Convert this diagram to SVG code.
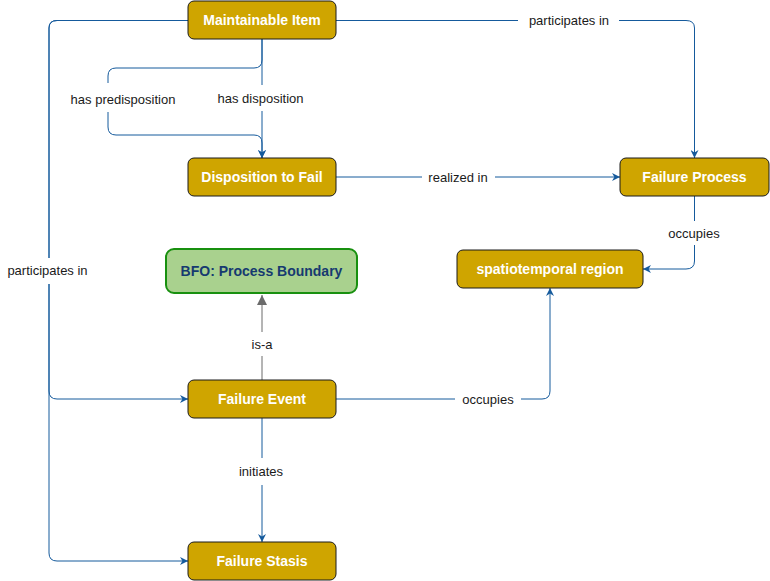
<svg xmlns="http://www.w3.org/2000/svg" width="770" height="581" viewBox="0 0 770 581">
<style>
.node rect{fill:#cfa500;stroke:#1a1a1a;stroke-width:1}
.node text{font-family:"Liberation Sans",Arial,sans-serif;font-weight:bold;font-size:14px;fill:#fff;text-anchor:middle;dominant-baseline:central}
.bfo rect{fill:#a9d18e;stroke:#18900f;stroke-width:2}
.bfo text{fill:#163a70}
.edge{fill:none;stroke:#155a9c;stroke-width:1}
.isa{fill:none;stroke:#6b6b6b;stroke-width:1}
.lbl rect{fill:#fff}
.lbl text{font-family:"Liberation Sans",Arial,sans-serif;font-size:13px;fill:#1a1a1a;text-anchor:middle;dominant-baseline:central}
</style>
<defs>
<marker id="arr" viewBox="0 0 10 10" refX="10" refY="5" markerWidth="8" markerHeight="8" markerUnits="userSpaceOnUse" orient="auto">
<path d="M0,0 L10,5 L0,10 L3,5 Z" fill="#155a9c"/>
</marker>
<marker id="tri" viewBox="0 0 10 10" refX="10" refY="5" markerWidth="12" markerHeight="10" markerUnits="userSpaceOnUse" orient="auto">
<path d="M0,0 L10,5 L0,10 Z" fill="#6b6b6b"/>
</marker>
</defs>
<rect width="770" height="581" fill="#fff"/>
<g id="connectors">
<path class="edge" d="M336,20.5 H686 Q694.5,20.5 694.5,28 V158" marker-end="url(#arr)"/>
<path class="edge" d="M262,39 V158" marker-end="url(#arr)"/>
<path class="edge" d="M262,39 V60 Q262,68 254,68 H116 Q108,68 108,76 V127 Q108,135 116,135 H254 Q262,135 262,143 V158" marker-end="url(#arr)"/>
<path class="edge" d="M188,20.5 H57 Q49,20.5 49,28 V391 Q49,399 57,399 H188" marker-end="url(#arr)"/>
<path class="edge" d="M188,20.5 H57 Q49,20.5 49,28 V553 Q49,561 57,561 H188" marker-end="url(#arr)"/>
<path class="edge" d="M336,177 H620" marker-end="url(#arr)"/>
<path class="edge" d="M694.5,196 V261 Q694.5,269 686,269 H643" marker-end="url(#arr)"/>
<path class="edge" d="M336,399 H542 Q550,399 550,391 V288" marker-end="url(#arr)"/>
<path class="isa" d="M262,380 V295" marker-end="url(#tri)"/>
<path class="edge" d="M262,418 V542" marker-end="url(#arr)"/>
<g class="lbl">
<rect x="518" y="10" width="101" height="20"/><text x="569" y="20">participates in</text>
<rect x="66" y="83" width="114" height="29"/><text x="123" y="99">has predisposition</text>
<rect x="213" y="85" width="96" height="26"/><text x="260.5" y="98">has disposition</text>
<rect x="422" y="167" width="73" height="20"/><text x="458" y="177">realized in</text>
<rect x="664" y="221" width="60" height="24"/><text x="694" y="233">occupies</text>
<rect x="3" y="258" width="90" height="26"/><text x="47.5" y="270">participates in</text>
<rect x="247" y="332" width="30" height="24"/><text x="262" y="344">is-a</text>
<rect x="455" y="389" width="66" height="20"/><text x="488" y="399">occupies</text>
<rect x="234" y="458" width="55" height="27"/><text x="261" y="471">initiates</text>
</g>
</g>
<g id="maintainable-item" class="node"><rect x="188" y="1" width="148" height="38" rx="6"/><text x="262" y="20">Maintainable Item</text></g>
<g id="disposition-to-fail" class="node"><rect x="188" y="158" width="148" height="38" rx="6"/><text x="262" y="177">Disposition to Fail</text></g>
<g id="failure-process" class="node"><rect x="620" y="158" width="149" height="38" rx="6"/><text x="694.5" y="177">Failure Process</text></g>
<g id="spatiotemporal-region" class="node"><rect x="457" y="250" width="186" height="38" rx="6"/><text x="550" y="269">spatiotemporal region</text></g>
<g id="bfo-process-boundary" class="node bfo"><rect x="166" y="249" width="191" height="44" rx="8"/><text x="261.5" y="271">BFO: Process Boundary</text></g>
<g id="failure-event" class="node"><rect x="188" y="380" width="148" height="38" rx="6"/><text x="262" y="399">Failure Event</text></g>
<g id="failure-stasis" class="node"><rect x="188" y="542" width="148" height="38" rx="6"/><text x="262" y="561">Failure Stasis</text></g>
</svg>
